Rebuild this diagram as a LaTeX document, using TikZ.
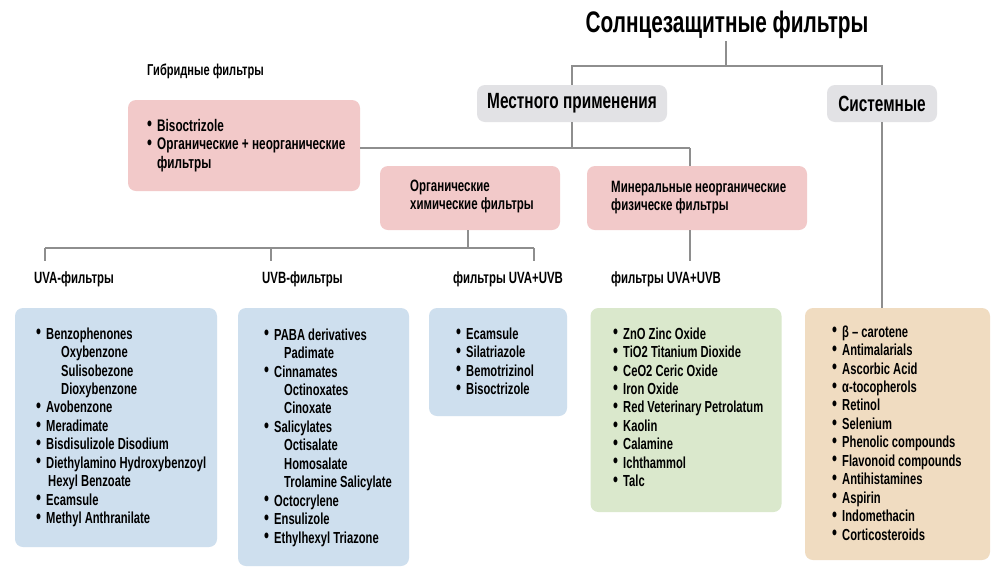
\documentclass[tikz,border=0pt]{standalone}
\usepackage{fontspec}
\setmainfont{Liberation Sans}[FakeStretch=0.7]
\definecolor{pinkc}{HTML}{F2C9C9}
\definecolor{grayc}{HTML}{E2E2E5}
\definecolor{bluec}{HTML}{CEDFEE}
\definecolor{greenc}{HTML}{DAE8CC}
\definecolor{tanc}{HTML}{F0DCC1}
\definecolor{linec}{HTML}{8E8E8E}
\newcommand\bul{\makebox[10pt][l]{\raisebox{0.3pt}{\fontsize{20}{18}\selectfont •}}}
\begin{document}
\begin{tikzpicture}[x=1pt,y=-1pt,
  conn/.style={draw=linec,line width=1.4pt},
  boxsh/.style={rectangle,rounded corners=8pt,inner sep=0pt},
  txt/.style={inner sep=0pt,align=left,font=\bfseries\fontsize{16}{18.45}\selectfont},
  head/.style={font=\bfseries\fontsize{22}{24}\selectfont},
  lbl/.style={inner xsep=0pt,inner ysep=10pt,font=\bfseries\fontsize{16.3}{18}\selectfont}]
\useasboundingbox (0,0) rectangle (1000,574);
\fill[white] (0,0) rectangle (1000,574);

% title and top level
\node[font=\bfseries\fontsize{29.7}{32}\selectfont,inner sep=2pt] (title) at (727,25) {Солнцезащитные фильтры};
\node[boxsh,fill=grayc,minimum width=190,minimum height=37,head] (loc) at (572,103.5) {Местного применения};
\node[boxsh,fill=grayc,minimum width=110,minimum height=37,head] (sys) at (882,103.5) {Системные};

% hybrid
\node[font=\bfseries\fontsize{15.8}{18}\selectfont,inner sep=0pt,anchor=west] (hyblab) at (147,71) {Гибридные фильтры};
\node[boxsh,fill=pinkc,minimum width=232,minimum height=91] (hyb) at (244,145.5) {};
\node[txt,font=\bfseries\fontsize{16.8}{18.5}\selectfont,anchor=north west] (hybt) at (147,118) {\strut\bul Bisoctrizole\\
\bul Органические + неорганические\\
\hspace*{10pt}фильтры};

% second level
\node[boxsh,fill=pinkc,minimum width=180,minimum height=64] (org) at (470,198) {};
\node[txt,font=\bfseries\fontsize{16.4}{18.45}\selectfont,anchor=north west] (orgt) at (410,178) {\strut Органические\\химические фильтры};
\node[boxsh,fill=pinkc,minimum width=220,minimum height=64] (min) at (697,198) {};
\node[txt,font=\bfseries\fontsize{16.4}{18.45}\selectfont,anchor=north west] (mint) at (611,179) {\strut Минеральные неорганические\\физическе фильтры};

% labels
\node[lbl,anchor=west] (uval) at (34,279) {UVA-фильтры};
\node[lbl,anchor=west] (uvbl) at (262,279) {UVB-фильтры};
\node[lbl,anchor=west] (uvabl) at (453,279) {фильтры UVA+UVB};
\node[lbl,anchor=west] (minl) at (611,279) {фильтры UVA+UVB};

% bottom boxes
\node[boxsh,fill=bluec,minimum width=202,minimum height=239] (uvab) at (116,427.5) {};
\node[txt,anchor=north west] (uvat) at (36,326) {\strut\bul Benzophenones\\
\hspace*{25pt}Oxybenzone\\
\hspace*{25pt}Sulisobezone\\
\hspace*{25pt}Dioxybenzone\\
\bul Avobenzone\\
\bul Meradimate\\
\bul Bisdisulizole Disodium\\
\bul Diethylamino Hydroxybenzoyl\\
\hspace*{12pt}Hexyl Benzoate\\
\bul Ecamsule\\
\bul Methyl Anthranilate};

\node[boxsh,fill=bluec,minimum width=171,minimum height=258] (uvbb) at (323.5,437) {};
\node[txt,anchor=north west] (uvbt) at (264,327) {\strut\bul PABA derivatives\\
\hspace*{20pt}Padimate\\
\bul Cinnamates\\
\hspace*{20pt}Octinoxates\\
\hspace*{20pt}Cinoxate\\
\bul Salicylates\\
\hspace*{20pt}Octisalate\\
\hspace*{20pt}Homosalate\\
\hspace*{20pt}Trolamine Salicylate\\
\bul Octocrylene\\
\bul Ensulizole\\
\bul Ethylhexyl Triazone};

\node[boxsh,fill=bluec,minimum width=138,minimum height=108] (uvabb) at (498,362) {};
\node[txt,anchor=north west] (uvabt) at (456,326) {\strut\bul Ecamsule\\
\bul Silatriazole\\
\bul Bemotrizinol\\
\bul Bisoctrizole};

\node[boxsh,fill=greenc,minimum width=191,minimum height=204] (minb) at (686,410) {};
\node[txt,anchor=north west] (minbt) at (613,326) {\strut\bul ZnO Zinc Oxide\\
\bul TiO2 Titanium Dioxide\\
\bul CeO2 Ceric Oxide\\
\bul Iron Oxide\\
\bul Red Veterinary Petrolatum\\
\bul Kaolin\\
\bul Calamine\\
\bul Ichthammol\\
\bul Talc};

\node[boxsh,fill=tanc,minimum width=185,minimum height=252] (sysb) at (897.5,434) {};
\node[txt,anchor=north west] (sysbt) at (832,324) {\strut\bul β – carotene\\
\bul Antimalarials\\
\bul Ascorbic Acid\\
\bul α-tocopherols\\
\bul Retinol\\
\bul Selenium\\
\bul Phenolic compounds\\
\bul Flavonoid compounds\\
\bul Antihistamines\\
\bul Aspirin\\
\bul Indomethacin\\
\bul Corticosteroids};

% connectors
\coordinate (r1) at (726,66);
\coordinate (r2) at (572,148);
\coordinate (r3) at (468,248);
\coordinate (xm) at (690,148);
\coordinate (x45) at (45,248);
\coordinate (x271) at (271,248);
\coordinate (x534) at (534,248);
\draw[conn] (title.south -| r1) -- (r1);
\draw[conn] (loc.north) -- (loc.north |- r1) -- (sys.north |- r1) -- (sys.north);
\draw[conn] (loc.south) -- (loc.south |- r2);
\draw[conn] (hyb.east |- r2) -- (xm);
\draw[conn] (org.north -| r3) -- (org.north -| r3 |- r2);
\draw[conn] (xm) -- (min.north -| xm);
\draw[conn] (org.south -| r3) -- (r3);
\draw[conn] (x45) -- (x534);
\draw[conn] (x45) -- (uval.north -| x45);
\draw[conn] (x271) -- (uvbl.north -| x271);
\draw[conn] (x534) -- (uvabl.north -| x534);
\draw[conn] (min.south -| xm) -- (minl.north -| xm);
\draw[conn] (sys.south) -- (sysb.north -| sys.south);
\end{tikzpicture}
\end{document}
